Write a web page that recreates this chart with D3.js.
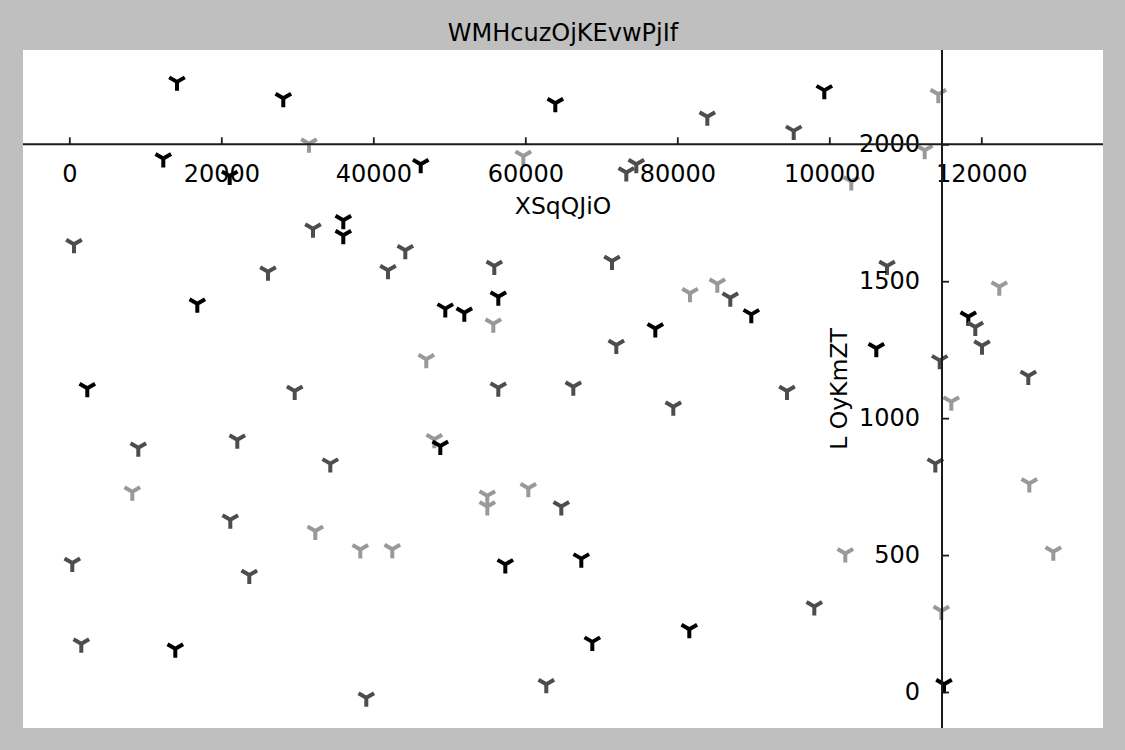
<!DOCTYPE html>
<html>
<head>
<meta charset="utf-8">
<script src="https://cdn.jsdelivr.net/npm/d3@7"></script>
<style>
  html, body { margin: 0; padding: 0; background: #bfbfbf; }
  svg { display: block; }
</style>
</head>
<body>
<svg id="chart" width="1125" height="750"></svg>
<script>
// ---------- data ----------
const title = "WMHcuzOjKEvwPjIf";
const xLabel = "XSqQJiO";
const yLabel = "L OyKmZT";

const xTicks = [0, 20000, 40000, 60000, 80000, 100000, 120000];
const yTicks = [0, 500, 1000, 1500, 2000];

const xLimits = [-6092, 136013];
const yLimits = [-131.5, 2344.4];
const xSpineAtY = 2000;     // horizontal spine sits at y = 2000
const ySpineAtX = 114830;   // vertical spine sits at x ≈ 114830

const seriesNames = ["light", "black", "dark"];
const seriesColors = ["#999999", "#000000", "#4d4d4d"];

const lightX = [31540, 59737, 55790, 81672, 85264, 46974, 114343, 112554, 102896, 122369,
                8290, 32369, 38290, 48027, 60395, 55000, 55000, 42500, 116053, 126317,
                102106, 129474, 114738];
const lightY = [2002, 1957, 1345, 1456, 1491, 1215, 2183, 1978, 1864, 1480,
                731, 588, 520, 923, 744, 717, 677, 521, 1060, 761,
                506, 512, 296];

const blackX = [14171, 28158, 12368, 21105, 36053, 36053, 16842, 63948, 46237, 56448,
                49474, 51974, 77106, 99343, 89738, 118290, 106185, 2368, 48816, 57369,
                67369, 68816, 81580, 13947, 115093];
const blackY = [2228, 2168, 1948, 1884, 1723, 1668, 1418, 2150, 1927, 1443,
                1400, 1385, 1327, 2197, 1379, 1370, 1255, 1109, 898, 466,
                487, 183, 229, 158, 28];

const darkX = [32066, 618, 26145, 44211, 41935, 55922, 71408, 83948, 73290, 74606,
               86974, 71974, 95316, 107593, 119211, 120093, 114527, 126185, 29658, 9079,
               22105, 34342, 21184, 395, 23684, 1579, 39079, 56448, 66316, 79474,
               64737, 62763, 94435, 113948, 98027];
const darkY = [1692, 1635, 1535, 1613, 1540, 1556, 1574, 2101, 1897, 1927,
               1440, 1267, 2049, 1556, 1333, 1264, 1211, 1154, 1099, 892,
               921, 834, 629, 471, 427, 176, -21, 1111, 1115, 1042,
               677, 28, 1099, 834, 312];

// ---------- layout ----------
const W = 1125, H = 750;
const plot = { left: 23, top: 50, right: 1103, bottom: 728 };
const FONT = "DejaVu Sans, Liberation Sans, sans-serif";

const svg = d3.select("#chart");

svg.append("rect").attr("x", 0).attr("y", 0).attr("width", W).attr("height", H)
  .attr("fill", "#bfbfbf");
svg.append("rect")
  .attr("x", plot.left).attr("y", plot.top)
  .attr("width", plot.right - plot.left).attr("height", plot.bottom - plot.top)
  .attr("fill", "#ffffff");

const x = d3.scaleLinear().domain(xLimits).range([plot.left, plot.right]);
const y = d3.scaleLinear().domain(yLimits).range([plot.bottom, plot.top]);

// ---------- markers (tri_down) ----------
const r = 9;
const triDown = `M0,0L0,${r}M0,0L${-0.866 * r},${-0.5 * r}M0,0L${0.866 * r},${-0.5 * r}`;

const series = [
  { xs: lightX, ys: lightY, color: seriesColors[0] },
  { xs: blackX, ys: blackY, color: seriesColors[1] },
  { xs: darkX, ys: darkY, color: seriesColors[2] }
];

svg.append("clipPath").attr("id", "clip").append("rect")
  .attr("x", plot.left).attr("y", plot.top)
  .attr("width", plot.right - plot.left).attr("height", plot.bottom - plot.top);

const gPts = svg.append("g").attr("clip-path", "url(#clip)");
series.forEach(s => {
  const pts = s.xs.map((v, i) => [v, s.ys[i]]);
  gPts.append("g").selectAll("path").data(pts).join("path")
    .attr("d", triDown)
    .attr("transform", d => `translate(${x(d[0])},${y(d[1])})`)
    .attr("fill", "none")
    .attr("stroke", s.color)
    .attr("stroke-width", 4)
    .attr("stroke-linecap", "butt")
    .attr("stroke-linejoin", "miter");
});

// ---------- axes ----------
const fmt = d3.format("d");
const xAxisG = svg.append("g")
  .attr("transform", `translate(0,${y(xSpineAtY)})`)
  .call(d3.axisBottom(x).tickValues(xTicks).tickFormat(fmt)
    .tickSizeInner(-7).tickSizeOuter(0).tickPadding(20.7));
xAxisG.select(".domain").remove();
xAxisG.selectAll(".tick line").attr("stroke", "#1a1a1a").attr("stroke-width", 1.8);
xAxisG.selectAll(".tick text").attr("font-family", FONT).attr("font-size", "24px")
  .attr("fill", "#000");

const yAxisG = svg.append("g")
  .attr("transform", `translate(${x(ySpineAtX)},0)`)
  .call(d3.axisLeft(y).tickValues(yTicks).tickFormat(fmt)
    .tickSizeInner(-7).tickSizeOuter(0).tickPadding(22));
yAxisG.select(".domain").remove();
yAxisG.selectAll(".tick line").attr("stroke", "#1a1a1a").attr("stroke-width", 1.8);
yAxisG.selectAll(".tick text").attr("font-family", FONT).attr("font-size", "24px")
  .attr("fill", "#000");

// spines
svg.append("line")
  .attr("x1", plot.left).attr("x2", plot.right)
  .attr("y1", y(xSpineAtY)).attr("y2", y(xSpineAtY))
  .attr("stroke", "#1a1a1a").attr("stroke-width", 2);
svg.append("line")
  .attr("x1", x(ySpineAtX)).attr("x2", x(ySpineAtX))
  .attr("y1", plot.top).attr("y2", plot.bottom)
  .attr("stroke", "#1a1a1a").attr("stroke-width", 2);

// ---------- texts ----------
svg.append("text")
  .attr("x", (plot.left + plot.right) / 2).attr("y", 41)
  .attr("text-anchor", "middle")
  .attr("font-family", FONT).attr("font-size", "24px").attr("fill", "#000")
  .text(title);

svg.append("text")
  .attr("x", (plot.left + plot.right) / 2).attr("y", 214)
  .attr("text-anchor", "middle")
  .attr("font-family", FONT).attr("font-size", "23.5px").attr("fill", "#000")
  .text(xLabel);

svg.append("text")
  .attr("transform", `translate(846.5,${(plot.top + plot.bottom) / 2}) rotate(-90)`)
  .attr("text-anchor", "middle")
  .attr("font-family", FONT).attr("font-size", "23.5px").attr("fill", "#000")
  .text(yLabel);
</script>
</body>
</html>
